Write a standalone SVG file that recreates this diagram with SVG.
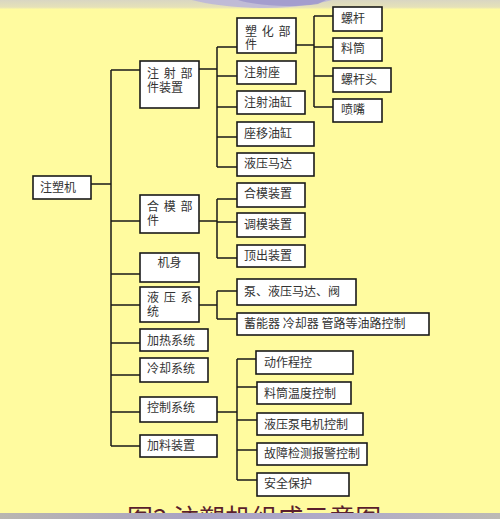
<svg xmlns="http://www.w3.org/2000/svg" width="500" height="519" viewBox="0 0 500 519">
<defs>
<style>
.box{fill:#fff;stroke:#1a1a1a;stroke-width:1.6}
.t{font-family:"Noto Sans CJK SC","Noto Sans CJK TC",sans-serif;font-size:12px;fill:#333}
.sp{letter-spacing:1px}
.ln{stroke:#1a1a1a;stroke-width:1.5;fill:none}
</style>
<linearGradient id="topg" x1="0" y1="0" x2="0" y2="1">
<stop offset="0" stop-color="#D9D6C2"/><stop offset="0.8" stop-color="#E6E2B8"/><stop offset="1" stop-color="#FBF7A4"/>
</linearGradient>
<linearGradient id="botg" x1="0" y1="0" x2="1" y2="0">
<stop offset="0" stop-color="#B9B6B0"/><stop offset="0.4" stop-color="#A9A2C4"/><stop offset="0.7" stop-color="#B0ABC8"/><stop offset="1" stop-color="#BDBAB4"/>
</linearGradient>
</defs>
<rect x="0" y="0" width="500" height="519" fill="#FFFB9F"/>
<rect x="0" y="0" width="500" height="9" fill="url(#topg)"/>
<path d="M192,0 C215,6 255,10 290,7 C310,5 325,2 332,0 Z" fill="#B8B3DC" opacity="0.8"/>
<path d="M238,0 C258,6 290,8 318,4 L326,0 Z" fill="#9C96CC" opacity="0.8"/>

<g id="connectors">
<path class="ln" d="M91,184 H111 M111,70 V446 M111,70 H140 M111,221 H140 M111,274 H140 M111,305 H140 M111,343 H140 M111,375 H140 M111,412 H140 M111,446 H140"/>
<path class="ln" d="M199,69 H217 M217,47 V167 M217,47 H237 M217,76 H237 M217,107 H237 M217,137 H237 M217,167 H237"/>
<path class="ln" d="M296,45 H314 M314,16 V107 M314,16 H333 M314,47 H333 M314,76 H333 M314,107 H333"/>
<path class="ln" d="M199,221 H217 M217,199 V258 M217,199 H237 M217,222 H237 M217,258 H237"/>
<path class="ln" d="M199,305 H217 M217,291 V319 M217,291 H237 M217,319 H237"/>
<path class="ln" d="M217,412 H237 M237,359 V480 M237,359 H256 M237,387 H257 M237,420 H257 M237,450 H257 M237,480 H257"/>
</g>

<g id="root"><rect class="box" x="33" y="176" width="58" height="23"/><text class="t" x="40" y="192">注塑机</text></g>

<g id="n1"><rect class="box" x="140" y="61" width="59" height="47"/><text class="t" x="147" y="78" xml:space="preserve"><tspan class="sp">注 射 部</tspan><tspan x="147" y="92">件装置</tspan></text></g>
<g id="n1a"><rect class="box" x="237" y="18" width="59" height="35"/><text class="t" x="245" y="36" xml:space="preserve"><tspan class="sp">塑 化 部</tspan><tspan x="245" y="49">件</tspan></text></g>
<g id="n1b"><rect class="box" x="237" y="61" width="59" height="23"/><text class="t" x="244" y="77">注射座</text></g>
<g id="n1c"><rect class="box" x="237" y="91" width="68" height="23"/><text class="t" x="244" y="107">注射油缸</text></g>
<g id="n1d"><rect class="box" x="237" y="122" width="77" height="24"/><text class="t" x="244" y="138">座移油缸</text></g>
<g id="n1e"><rect class="box" x="237" y="153" width="77" height="23"/><text class="t" x="244" y="168">液压马达</text></g>

<g id="s1"><rect class="box" x="333" y="7" width="49" height="24"/><text class="t" x="341" y="23">螺杆</text></g>
<g id="s2"><rect class="box" x="333" y="38" width="49" height="23"/><text class="t" x="341" y="53">料筒</text></g>
<g id="s3"><rect class="box" x="333" y="68" width="58" height="24"/><text class="t" x="341" y="84">螺杆头</text></g>
<g id="s4"><rect class="box" x="333" y="99" width="49" height="23"/><text class="t" x="341" y="114">喷嘴</text></g>

<g id="n2"><rect class="box" x="140" y="195" width="59" height="38"/><text class="t" x="147" y="211" xml:space="preserve"><tspan class="sp">合 模 部</tspan><tspan x="147" y="225">件</tspan></text></g>
<g id="n2a"><rect class="box" x="237" y="183" width="68" height="24"/><text class="t" x="244" y="198">合模装置</text></g>
<g id="n2b"><rect class="box" x="237" y="213" width="68" height="24"/><text class="t" x="244" y="229">调模装置</text></g>
<g id="n2c"><rect class="box" x="237" y="245" width="68" height="22"/><text class="t" x="244" y="260">顶出装置</text></g>

<g id="n3"><rect class="box" x="140" y="253" width="59" height="29"/><text class="t" x="169.5" y="267" text-anchor="middle">机身</text></g>

<g id="n4"><rect class="box" x="140" y="287" width="59" height="35"/><text class="t" x="147" y="302" xml:space="preserve"><tspan class="sp">液 压 系</tspan><tspan x="147" y="316">统</tspan></text></g>
<g id="n4a"><rect class="box" x="237" y="279" width="119" height="26"/><text class="t" x="244" y="296">泵、液压马达、阀</text></g>
<g id="n4b"><rect class="box" x="237" y="313" width="192" height="22"/><text class="t" x="244" y="328" xml:space="preserve">蓄能器 冷却器 管路等油路控制</text></g>

<g id="n5"><rect class="box" x="140" y="329" width="68" height="22"/><text class="t" x="147" y="345">加热系统</text></g>
<g id="n6"><rect class="box" x="140" y="358" width="68" height="24"/><text class="t" x="147" y="373">冷却系统</text></g>
<g id="n7"><rect class="box" x="140" y="397" width="77" height="25"/><text class="t" x="147" y="412">控制系统</text></g>
<g id="n8"><rect class="box" x="140" y="435" width="77" height="22"/><text class="t" x="147" y="450">加料装置</text></g>

<g id="n7a"><rect class="box" x="256" y="351" width="97" height="23"/><text class="t" x="264" y="367">动作程控</text></g>
<g id="n7b"><rect class="box" x="257" y="382" width="94" height="22"/><text class="t" x="264" y="398">料筒温度控制</text></g>
<g id="n7c"><rect class="box" x="257" y="413" width="106" height="22"/><text class="t" x="264" y="429">液压泵电机控制</text></g>
<g id="n7d"><rect class="box" x="257" y="443" width="110" height="22"/><text class="t" x="264" y="458">故障检测报警控制</text></g>
<g id="n7e"><rect class="box" x="257" y="473" width="92" height="23"/><text class="t" x="264" y="488">安全保护</text></g>

<text x="127" y="528" font-family="'Noto Sans CJK SC',sans-serif" font-size="26" fill="#5A1E2C" xml:space="preserve">图2 注塑机组成示意图</text>
<rect x="0" y="513" width="500" height="6" fill="url(#botg)"/>
</svg>
